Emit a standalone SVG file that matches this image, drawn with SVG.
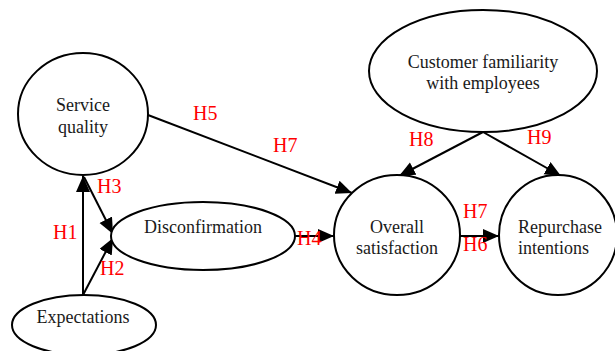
<svg xmlns="http://www.w3.org/2000/svg" width="615" height="351" viewBox="0 0 615 351">
<style>
.node{fill:#fff;stroke:#000;stroke-width:2}
.t{font-family:"Liberation Serif","Times New Roman",serif;font-size:18px;fill:#1a1a1a;text-anchor:middle}
.h{font-family:"Liberation Serif","Times New Roman",serif;font-size:20px;fill:#ff0000}
.c{stroke:#000;stroke-width:2;fill:none;marker-end:url(#ah)}
</style>
<defs>
<marker id="ah" markerUnits="userSpaceOnUse" markerWidth="17" markerHeight="15" refX="16" refY="7" orient="auto" viewBox="0 0 17 15">
<path d="M0,0 L16,7 L0,14 z" fill="#000"/>
</marker>
</defs>
<rect width="615" height="351" fill="#fff"/>
<g id="connectors">
<line class="c" x1="83" y1="295" x2="83" y2="176"/>
<line class="c" x1="83" y1="295" x2="113" y2="238"/>
<line class="c" x1="84" y1="177" x2="113" y2="234"/>
<line class="c" x1="148" y1="115" x2="352" y2="193"/>
<line class="c" x1="295" y1="236" x2="334" y2="236"/>
<line class="c" x1="460" y1="236" x2="499" y2="236"/>
<line class="c" x1="483" y1="132" x2="399" y2="176"/>
<line class="c" x1="483" y1="132" x2="561" y2="176"/>
</g>
<g id="service-quality">
<ellipse class="node" cx="83" cy="114" rx="65" ry="61"/>
<text class="t" x="83" y="111">Service</text>
<text class="t" x="83" y="133">quality</text>
</g>
<g id="disconfirmation">
<ellipse class="node" cx="203" cy="236" rx="92" ry="34"/>
<text class="t" x="203" y="233">Disconfirmation</text>
</g>
<g id="expectations">
<ellipse class="node" cx="84" cy="325" rx="72" ry="30"/>
<text class="t" x="83" y="323">Expectations</text>
</g>
<g id="customer-familiarity">
<ellipse class="node" cx="483" cy="71" rx="114" ry="61"/>
<text class="t" x="483" y="68">Customer familiarity</text>
<text class="t" x="483" y="89">with employees</text>
</g>
<g id="overall-satisfaction">
<ellipse class="node" cx="397" cy="235" rx="63" ry="60"/>
<text class="t" x="397" y="233">Overall</text>
<text class="t" x="397" y="254">satisfaction</text>
</g>
<g id="repurchase-intentions">
<ellipse class="node" cx="558" cy="235" rx="59" ry="60"/>
<text class="t" x="518" y="233" style="text-anchor:start">Repurchase</text>
<text class="t" x="518" y="254" style="text-anchor:start">intentions</text>
</g>
<g id="labels">
<text class="h" x="193" y="120">H5</text>
<text class="h" x="273" y="152">H7</text>
<text class="h" x="97" y="193">H3</text>
<text class="h" x="53" y="239">H1</text>
<text class="h" x="100" y="275">H2</text>
<text class="h" x="297" y="245">H4</text>
<text class="h" x="409" y="146">H8</text>
<text class="h" x="527" y="144">H9</text>
<text class="h" x="463" y="218">H7</text>
<text class="h" x="463" y="251">H6</text>
</g>
</svg>
